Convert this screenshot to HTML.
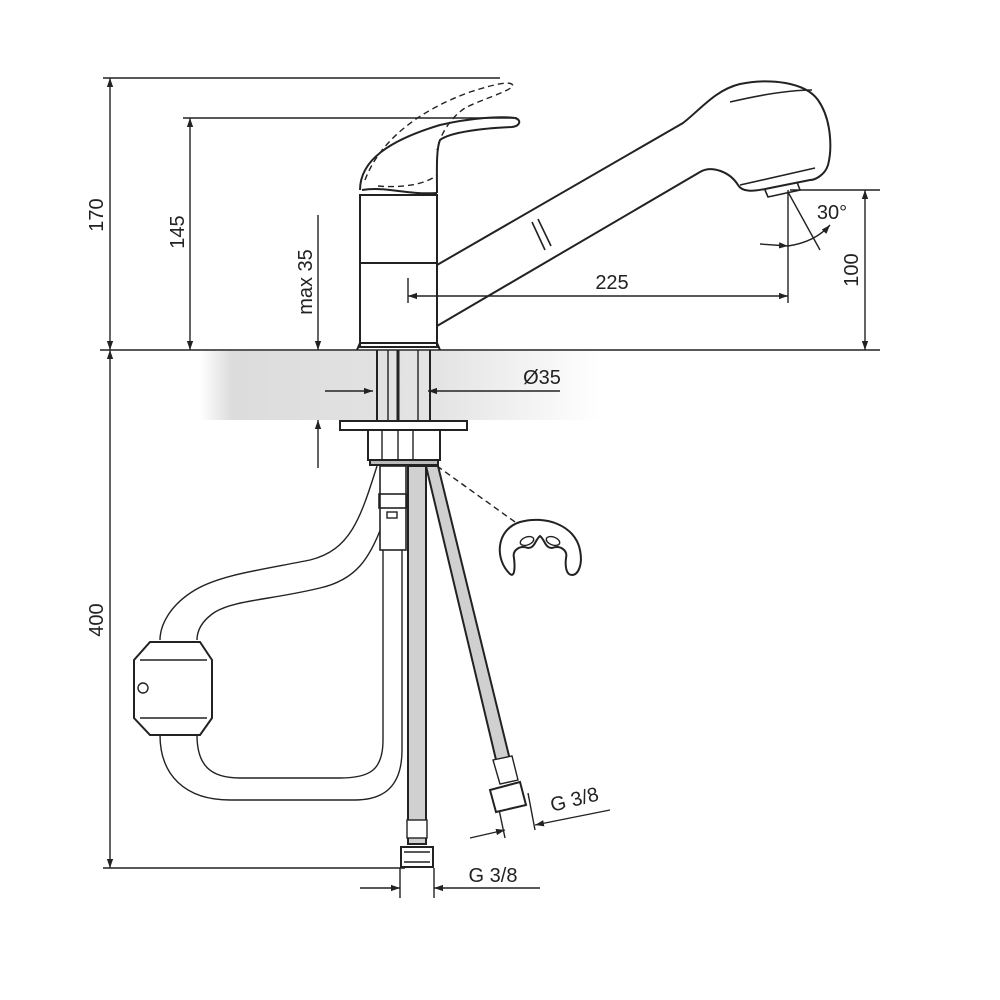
<!DOCTYPE html>
<html><head><meta charset="utf-8"><style>
html,body{margin:0;padding:0;background:#fff;}
svg{display:block}
text{font-family:"Liberation Sans",sans-serif;fill:#222;}
</style></head><body>
<svg width="1000" height="1000" viewBox="0 0 1000 1000" xmlns="http://www.w3.org/2000/svg">
<defs>
<linearGradient id="g" x1="0" x2="1" y1="0" y2="0">
<stop offset="0" stop-color="#fff"/><stop offset="0.08" stop-color="#dcdcdc"/><stop offset="0.6" stop-color="#e4e4e4"/><stop offset="1" stop-color="#fff"/>
</linearGradient>
<marker id="a" viewBox="0 0 10 10" refX="10" refY="5" markerWidth="9" markerHeight="9" orient="auto-start-reverse" markerUnits="userSpaceOnUse"><path d="M0,1.5 L10,5 L0,8.5 z" fill="#222"/></marker>
</defs>
<rect x="200" y="351" width="400" height="69" fill="url(#g)"/>
<g stroke="#222" stroke-width="1.4" fill="none">
<line x1="103" y1="78" x2="500" y2="78"/>
<line x1="183" y1="118" x2="517" y2="118"/>
<line x1="100" y1="350" x2="880" y2="350"/>
<line x1="103" y1="868" x2="405" y2="868"/>
<line x1="790" y1="190" x2="880" y2="190"/>
<line x1="110" y1="78" x2="110" y2="350" marker-start="url(#a)" marker-end="url(#a)"/>
<line x1="190" y1="118" x2="190" y2="350" marker-start="url(#a)" marker-end="url(#a)"/>
<line x1="110" y1="350" x2="110" y2="868" marker-start="url(#a)" marker-end="url(#a)"/>
<line x1="318" y1="215" x2="318" y2="350" marker-end="url(#a)"/>
<line x1="318" y1="468" x2="318" y2="420" marker-end="url(#a)"/>
<line x1="865" y1="350" x2="865" y2="190" marker-end="url(#a)" marker-start="url(#a)"/>
<line x1="408" y1="278" x2="408" y2="303"/>
<line x1="408" y1="296" x2="788" y2="296" marker-start="url(#a)" marker-end="url(#a)"/>
<line x1="788" y1="190" x2="788" y2="303"/>
<line x1="788" y1="192" x2="820" y2="250"/>
<line x1="760" y1="244" x2="788" y2="246" marker-end="url(#a)"/>
<path d="M788,246 Q815,242 830,225" marker-end="url(#a)"/>
<line x1="325" y1="391" x2="373" y2="391" marker-end="url(#a)"/>
<line x1="560" y1="391" x2="428" y2="391" marker-end="url(#a)"/>
<line x1="360" y1="888" x2="400" y2="888" marker-end="url(#a)"/>
<line x1="540" y1="888" x2="434" y2="888" marker-end="url(#a)"/>
<line x1="400" y1="868" x2="400" y2="898"/><line x1="434" y1="868" x2="434" y2="898"/>
<line x1="470" y1="838" x2="505" y2="830" marker-end="url(#a)"/>
<line x1="610" y1="810" x2="535" y2="825" marker-end="url(#a)"/>
<line x1="497" y1="800" x2="505" y2="838"/><line x1="528" y1="793" x2="535" y2="830"/>
<path d="M360,190 C360,160 390,140 440,125 C470,118 500,116 515,118 C522,120 520,126 512,127 C485,128 450,132 440,140 C436,150 437,170 437,193" stroke-width="2"/>
<path d="M362,190 C385,186 405,195 437,193" stroke-width="2"/>
<path d="M365,180 C380,140 420,110 470,92 C495,84 512,80 513,86 C508,92 480,100 465,108 C450,118 440,135 437,150" stroke-dasharray="6,4"/>
<path d="M378,186 C400,188 425,185 437,175" stroke-dasharray="6,4"/>
<rect x="360" y="195" width="77" height="152" stroke-width="2"/>
<line x1="360" y1="263" x2="437" y2="263" stroke-width="2"/>
<path d="M357,350 L360,343 L437,343 L440,350" stroke-width="2"/>
<path d="M437,265 L683,123 C700,110 715,90 740,84 C770,78 805,82 818,100 C832,120 832,150 828,165 C825,175 815,180 810,180 L770,188 C752,192 742,192 738,185 C730,172 712,165 700,172 L437,326" stroke-width="2"/>
<path d="M730,102 C760,95 790,90 812,90" stroke-width="1.6"/>
<path d="M740,185 L815,168" stroke-width="1.6"/>
<path d="M765,190 L768,197 L800,190 L797,182" stroke-width="1.6"/>
<line x1="532" y1="222" x2="545" y2="250" stroke-width="1.6"/>
<line x1="538" y1="219" x2="551" y2="246" stroke-width="1.6"/>
<line x1="377" y1="350" x2="377" y2="421" stroke-width="2"/>
<line x1="388" y1="350" x2="388" y2="421"/>
<line x1="398" y1="350" x2="398" y2="421" stroke-width="3"/>
<line x1="418" y1="350" x2="418" y2="421"/>
<line x1="430" y1="350" x2="430" y2="421" stroke-width="2"/>
<rect x="340" y="421" width="127" height="9" stroke-width="2"/>
<rect x="368" y="430" width="72" height="30" stroke-width="2"/>
<line x1="382" y1="430" x2="382" y2="460"/><line x1="398" y1="430" x2="398" y2="460"/><line x1="413" y1="430" x2="413" y2="460"/>
<rect x="370" y="460" width="68" height="5" stroke-width="2" fill="#bbb"/>
<rect x="408" y="466" width="18" height="378" fill="#d0d0d0" stroke-width="2"/>
<path d="M426,466 L438,466 L510,760 L497,764 Z" fill="#d0d0d0" stroke-width="2"/>
<rect x="407" y="820" width="20" height="18" fill="#fff"/>
<rect x="401" y="847" width="32" height="20" fill="#fff" stroke-width="2"/>
<line x1="404" y1="852" x2="430" y2="852"/><line x1="404" y1="862" x2="430" y2="862"/>
<path d="M493,760 L512,756 L518,780 L500,784 Z" fill="#fff"/>
<path d="M490,790 L520,782 L526,805 L496,812 Z" fill="#fff" stroke-width="2"/>
<path d="M377,466 C360,520 350,550 310,560 C260,570 220,575 195,590 C170,605 160,625 160,640" />
<path d="M384,520 C370,560 355,580 320,588 C270,600 235,600 215,612 C200,622 197,632 197,640"/>
<path d="M160,735 C160,775 185,800 230,800 L355,800 C380,800 402,790 402,750 L402,550"/>
<path d="M197,735 C197,765 210,778 240,778 L340,778 C370,778 383,770 383,740 L383,550"/>
<rect x="380" y="466" width="26" height="84" fill="#fff" stroke-width="1.6"/>
<rect x="379" y="494" width="28" height="14" stroke-width="1.6"/>
<rect x="387" y="512" width="10" height="6"/>
<path d="M150,642 L200,642 L212,660 L212,718 L200,735 L150,735 L134,718 L134,660 Z" fill="#fff" stroke-width="2"/>
<line x1="140" y1="660" x2="207" y2="660"/><line x1="140" y1="718" x2="207" y2="718"/>
<circle cx="143" cy="688" r="5"/>
<line x1="437" y1="466" x2="515" y2="522" stroke-dasharray="6,4"/>
<path d="M510,574 C495,560 495,530 520,522 C545,515 575,525 580,550 C583,565 578,575 572,575 C566,575 565,566 566,558 C568,550 560,545 552,548 C545,548 545,540 540,536 C535,540 535,548 528,548 C520,545 512,550 514,558 C515,566 515,578 510,574 Z" stroke-width="2"/>
<ellipse cx="527" cy="541" rx="7" ry="4" transform="rotate(-20 527 541)"/>
<ellipse cx="553" cy="541" rx="7" ry="4" transform="rotate(20 553 541)"/>
</g>
<g font-size="20">
<text transform="translate(103,215) rotate(-90)" text-anchor="middle">170</text>
<text transform="translate(184,232) rotate(-90)" text-anchor="middle">145</text>
<text transform="translate(312,282) rotate(-90)" text-anchor="middle">max 35</text>
<text transform="translate(103,620) rotate(-90)" text-anchor="middle">400</text>
<text transform="translate(858,270) rotate(-90)" text-anchor="middle">100</text>
<text x="612" y="289" text-anchor="middle">225</text>
<text x="832" y="219" text-anchor="middle">30°</text>
<text x="542" y="384" text-anchor="middle">Ø35</text>
<text x="493" y="882" text-anchor="middle">G 3/8</text>
<text transform="translate(576,806) rotate(-14)" text-anchor="middle">G 3/8</text>
</g>
</svg>
</body></html>
